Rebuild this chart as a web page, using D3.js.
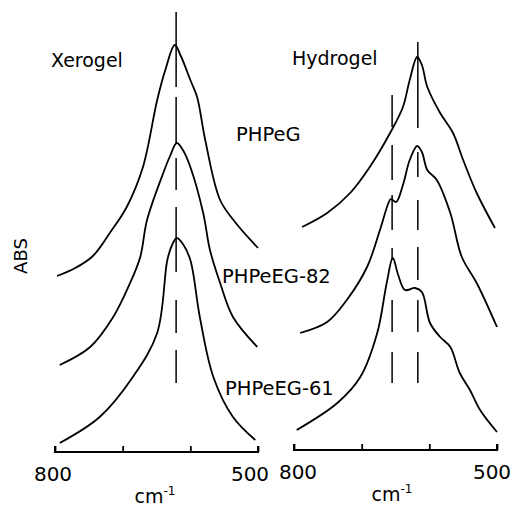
<!DOCTYPE html>
<html>
<head>
<meta charset="utf-8">
<script src="https://cdn.jsdelivr.net/npm/d3@7"></script>
<style>
  body { margin: 0; background: #fff; }
  text { font-family: "DejaVu Sans", sans-serif; fill: #000; }
</style>
</head>
<body>
<div id="chart"></div>
<script>
// data: [wavenumber cm-1, absorbance (arbitrary, offset)]
const xerogelPHPeG = [[797,44],[770,46],[744,49],[719,54.75],[694,61.25],[670,71.25],[649,88],[637,95.5],[623,101.75],[614,99],[600,93],[590,88.75],[578,78],[556,63],[534,57.5],[500,51]];
const xerogel82 = [[793,21.75],[748,26.25],[714,33.75],[689,42.25],[674,48.75],[664,58],[640,69.75],[630,74],[620,77.25],[611,75.5],[600,71.25],[581,59.75],[571,50.5],[556,42.25],[537,33.75],[501,26.25]];
const xerogel61 = [[793,2.25],[734,8.75],[685,18.75],[649,29.75],[634,48],[627,51.75],[620,53.5],[611,52],[600,48],[586,33.75],[566,18.75],[537,8.75],[504,3]];

const hydrogelPHPeG = [[788,56.25],[751,59.75],[717,64.75],[688,71.25],[658,79.75],[639,86.25],[629,93],[618,98.75],[611,96.75],[603,91.25],[584,84.75],[565,79.75],[550,73],[530,64.75],[503,56]];
const hydrogel82 = [[791,29.75],[751,32.5],[722,38],[692,46.25],[673,55.5],[661,62],[657,63.25],[649,62.5],[639,66.75],[629,73],[618,76.5],[611,75],[603,70.5],[589,68],[569,59.75],[552,48.75],[530,42.25],[500,31.25]];
const hydrogel61 = [[796,5.5],[736,12.25],[702,18.75],[677,29.75],[663,42.25],[654,48.5],[646,44.25],[636,40.5],[621,41],[611,40],[599,32.25],[584,28.75],[569,26.25],[555,19.75],[540,15.5],[525,10.5],[500,5]];

// peak markers: wavenumber and dash segments [from, to] in absorbance units
const xeroMarkers = [
  {wn: 621, segs: [[110,91.25],[88.75,77.25],[73.5,65.5],[61.25,45],[38,29.75],[25.5,17.25]]}
];
const hydroMarkers = [
  {wn: 617, segs: [[102.5,81],[75,68.75],[63,55.5],[51.25,43],[38,30],[25,17.25]]},
  {wn: 655, segs: [[89.25,81.25],[76.75,68],[64.25,55.5],[51,48],[38,30],[25,17.25]]}
];

const sampleLabels = ["PHPeG", "PHPeEG-82", "PHPeEG-61"];
const tickValues = [800, 700, 600, 500];
const tickLabels = ["800", "500"];

const width = 518, height = 507;

const svg = d3.select("#chart")
  .append("svg")
  .attr("width", width)
  .attr("height", height);

svg.append("rect").attr("width", width).attr("height", height).attr("fill", "#fff");

const y = d3.scaleLinear().domain([0, 100]).range([452, 52]);

// =========================
// PANEL
// =========================
function drawPanel(x0, x1, axisY, series, markers, title, titleX, titleY, numPos, unitX) {
  const x = d3.scaleLinear().domain([800, 500]).range([x0, x1]);
  const g = svg.append("g");

  const line = d3.line()
    .x(d => x(d[0]))
    .y(d => y(d[1]))
    .curve(d3.curveCatmullRom.alpha(0.5));

  g.selectAll("path.spec")
    .data(series)
    .enter()
    .append("path")
    .attr("class", "spec")
    .attr("d", line)
    .attr("fill", "none")
    .attr("stroke", "#000")
    .attr("stroke-width", 1.8)
    .attr("stroke-linejoin", "round");

  markers.forEach(m => {
    g.selectAll(null)
      .data(m.segs)
      .enter()
      .append("line")
      .attr("x1", x(m.wn)).attr("x2", x(m.wn))
      .attr("y1", d => y(d[0])).attr("y2", d => y(d[1]))
      .attr("stroke", "#000")
      .attr("stroke-width", 1.5);
  });

  // axis
  const axis = d3.axisTop(x).tickValues(tickValues).tickSize(6).tickFormat("");
  const ag = g.append("g").attr("transform", `translate(0,${axisY})`).call(axis);
  ag.select(".domain").attr("stroke", "#000").attr("stroke-width", 2).attr("d", `M${x0},${-6}V0H${x1}V${-6}`);
  ag.selectAll(".tick line").attr("stroke", "#000").attr("stroke-width", 1.8);

  g.selectAll("text.num")
    .data(tickLabels)
    .enter()
    .append("text")
    .attr("x", (d, i) => numPos[i])
    .attr("y", axisY + 29)
    .attr("text-anchor", "middle")
    .attr("font-size", 20)
    .text(d => d);

  const u = g.append("text")
    .attr("x", unitX)
    .attr("y", axisY + 51)
    .attr("text-anchor", "middle")
    .attr("font-size", 19);
  u.append("tspan").text("cm");
  u.append("tspan").attr("dy", -8).attr("font-size", 12).text("-1");

  g.append("text")
    .attr("x", titleX)
    .attr("y", titleY)
    .attr("font-size", 19)
    .text(title);
}

drawPanel(55, 258, 452, [xerogelPHPeG, xerogel82, xerogel61], xeroMarkers,
  "Xerogel", 51, 67, [53, 250], 155);
drawPanel(294, 497, 450, [hydrogelPHPeG, hydrogel82, hydrogel61], hydroMarkers,
  "Hydrogel", 292, 65, [298, 492], 392);

// sample labels
const labelPos = [[236, 141], [222, 283], [225, 395]];
svg.selectAll("text.sample")
  .data(sampleLabels)
  .enter()
  .append("text")
  .attr("class", "sample")
  .attr("x", (d, i) => labelPos[i][0])
  .attr("y", (d, i) => labelPos[i][1])
  .attr("font-size", 19.5)
  .text(d => d);

svg.append("text")
  .attr("transform", "translate(27,256) rotate(-90)")
  .attr("text-anchor", "middle")
  .attr("font-size", 18)
  .text("ABS");
</script>
</body>
</html>
